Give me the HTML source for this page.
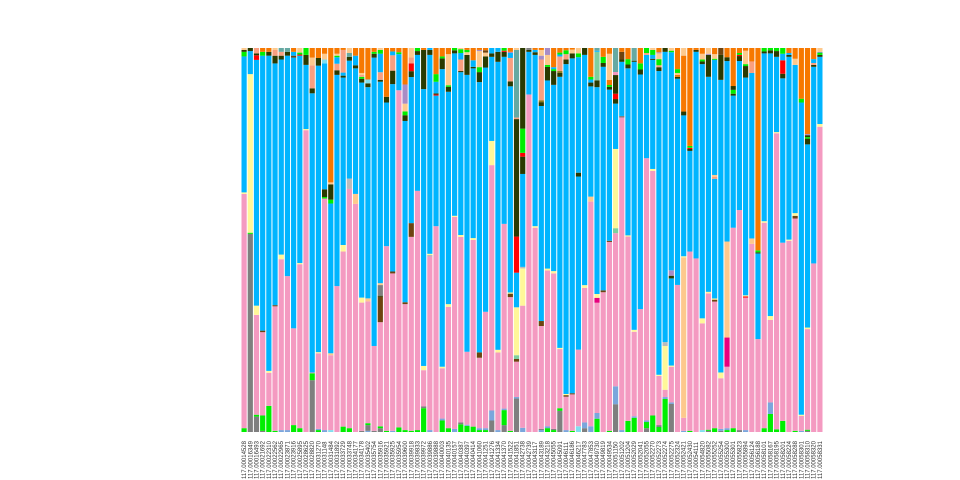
<!DOCTYPE html>
<html><head><meta charset="utf-8"><style>
html,body{margin:0;padding:0;background:#fff;width:960px;height:480px;overflow:hidden}
svg{display:block}
text{font-family:"Liberation Sans",sans-serif}
</style></head><body>
<svg id="chart" width="960" height="480">
<g id="bars"></g>
<g id="xlabels"></g>
</svg>
<script>
const categories = ["117.00014528","117.00016349","117.00016493","117.00021692","117.00022310","117.00022562","117.00022965","117.00023871","117.00023916","117.00025895","117.00028625","117.00028820","117.00031270","117.00031148","117.00031484","117.00031892","117.00033729","117.00033748","117.00034177","117.00034178","117.00035402","117.00035754","117.00035916","117.00035921","117.00035925","117.00035954","117.00039600","117.00039918","117.00039833","117.00039972","117.00039886","117.00039888","117.00040003","117.00040135","117.00040157","117.00040387","117.00040397","117.00040414","117.00041060","117.00041251","117.00041276","117.00041334","117.00041370","117.00041522","117.00041851","117.00042738","117.00042739","117.00043117","117.00043189","117.00043218","117.00045055","117.00045091","117.00046111","117.00046186","117.00046217","117.00047783","117.00047853","117.00049730","117.00049819","117.00049534","117.00051150","117.00051202","117.00051204","117.00052029","117.00052041","117.00052055","117.00052270","117.00052273","117.00052274","117.00052275","117.00052324","117.00052421","117.00052430","117.00054111","117.00054820","117.00055082","117.00055252","117.00055254","117.00055300","117.00055301","117.00055823","117.00055894","117.00056124","117.00056188","117.00058101","117.00058167","117.00058195","117.00058201","117.00058224","117.00058288","117.00058301","117.00058310","117.00058320","117.00058331"];
const seriesColors = {gy:"#7f7f7f",gr:"#00ee00",sb:"#7aa6dc",pk:"#f49ac1",mg:"#e7007d",br:"#6e4310",yl:"#fff799",pc:"#fdc98d",bl:"#00b5ff",rd:"#ff0000",dk:"#2a3a00",lm:"#00ee00",sa:"#f99f80",or:"#f77800",te:"#66a9a2",lv:"#a98cc5",si:"#bbbbbb",mi:"#7fcf9f",cy:"#7fdfef",ol:"#8b7a1a"};
const stacks = [
"gr1 pk61 yl.4 bl35.4 lm1.2 dk.5 pc.5",
"gy51.6 gr.3 yl41.3 bl6 dk.8",
"gy4 gr.5 pk26 yl2.4 bl64 rd1.2 dk.5 sa1.4",
"gy.3 gr4 pk21.7 br.4 bl71.6 lm1 or1",
"gr6.8 pk8.6 yl.5 bl82 dk1 or1",
"gr.3 pk32.3 br.3 bl62.7 dk2 sa1.5 pc.5",
"sb.5 pk44.5 yl1.2 bl50.8 dk1 sa1 te1",
"sb.5 pk40.1 bl57.4 dk1 te1",
"gr1.8 pk25.2 bl70.5 br.5 bl1 or1",
"gr1 pk42.7 yl.3 bl54 rd.3 lm.5 pc1.2",
"pk78.6 yl.3 bl16.7 dk2.6 lm1.8",
"gy13.5 gr1.8 pk.2 bl72.7 dk1.3 sa6 pc2 or2.5",
"gr.5 sb.3 pk19.7 yl.3 bl74.6 dk2 or2.6",
"sb.5 pk60.3 lm.4 dk2 bl32.8 cy1 pc1.5 or1.5",
"cy.5 pk19.5 pc.5 bl39 lm1 dk4 pc.5 or35",
"pk38 bl55 dk1.2 sa1.7 bl1.7 lm.4 pc.5 or1.5",
"gr1.4 pk45.6 yl1.7 bl43.6 dk.5 bl.8 sa5.9 or.5",
"gr1 pk62.3 si2.7 bl30.7 dk1 te1 pc1.3",
"pk59.4 pc2.6 bl32.7 dk.8 bl2.5 or2",
"gy.3 pk33.4 yl1.3 bl56 dk1 lm.5 sa.5 pc.5 or6.5",
"sb.3 gy1.5 gr.5 pk31.7 pc.8 bl55 dk1 cy1 or8.2",
"gy.3 pk22.1 bl75.1 dk1 lm.5 or1",
"gy1 gr.5 pk27.5 br6.7 dk.3 gy2.8 pc.5 bl53.2 dk.5 sa2 bl4.9 lm1 pc.5",
"gr.3 pk48.1 bl37.4 dk1.5 or12.7",
"sb.3 pk41 br.5 bl48.8 dk3.5 sa4 bl1 or.9",
"gr1.2 pk87.8 bl9.4 lm.5 or1.1",
"gr.5 pk32.8 br.5 bl47.2 dk1.5 lm1 pc2 lv5 or9.5",
"gr.3 pk49.4 br3.5 bl37.2 dk1.5 rd2 sa1.5 pc2.4",
"gr.5 pk62.3 bl35.4 dk1 lm.8",
"gr6.2 gy.5 pk9.4 yl1.1 bl72.1 dk10.2 or.5",
"sb.5 pk45.2 si.4 yl.3 bl51.8 dk1.3 bl.5",
"pk53.6 bl34 rd.3 dk.3 bl3 lm2 or6.8",
"gr3 sb.5 pk13.1 yl.4 bl77.5 dk2.8 lm.5 or2.2",
"gr1 pk31.6 yl.7 bl55.3 dk1.3 lm.4 pc8.1 or1.6",
"sb.8 pk55.2 yl.3 bl42.3 dk.8 lm.6",
"gr2 gy.5 pk48.3 yl.5 bl42.4 dk.3 sa3 bl1.7 lm1 pc.3",
"gr1.6 sb.3 pk19 bl72.1 dk5.2 pc.7 lm.6 or.5",
"gr1.4 pk48.6 yl.5 bl44.2 dk.4 bl1.7 or3.2",
"gr.5 sb.5 pk18.4 br1.4 bl70.6 dk2.6 lm1.3 pc4.2 lv.3 or.5",
"gr.5 sb.5 pk30.3 bl63.6 dk2.9 pc1 br.6 or.6",
"gy3 sb2.6 pk63.9 yl6.3 bl21.9 dk.9 bl1.4",
"sb.5 pk20.2 yl.7 bl75 dk2.6 bl1",
"gy1.8 gr3.9 sb.4 pk48.1 bl43.5 dk1.3 rd.3 lm.7",
"gr.3 pk34.9 br.9 yl.3 bl53.8 dk1.3 sa6.1 bl1.3 lv.3 or1",
"gy8.8 sb.4 pk9.3 br.7 mi1 yl12.6 bl9.1 rd9.5 dk30.9 sa.4 te17.8 pc.5",
"sb1.1 pk31.8 yl9.7 si.4 bl24.2 dk4.5 rd1 lm6.3 dk21",
"pk87.9 bl11.1 dk.5 gy.5",
"pk53.2 yl.4 bl44.6 dk.7 bl.6 or.5",
"sb.5 gy.3 pk26.8 br1.3 bl56 dk1 ol.5 sa10.6 lv1 pc1.5 or.5",
"gr1 sb.5 pk40.3 yl.5 bl48.7 dk3.5 lm.5 pc2.6 lv1.8",
"gr.5 gy.3 pk40.5 yl.6 bl48.5 dk3.6 lm.5 bl.5 or5",
"gy5.5 gr.7 pk15.4 yl.3 bl70.6 dk1 ol.5 sa3.8 bl.5 lm.5 or1.2",
"sb.5 pk8.7 br.4 yl.3 bl85.9 dk1.2 sa1.4 lm1 or.6",
"gr.3 pk9.5 br.3 bl87.2 dk1.3 pc1 or.4",
"cy1.5 pk20.1 bl45.4 dk1 bl30.3 lm1 pc1.4",
"gy1 sb1.5 pk35.2 yl.7 bl60.2 dk1.8",
"sb1.5 pk58.5 pc1.3 bl28.7 dk1 bl.8 lm.7 or7.5",
"gr3.5 sb1.5 pk29 mg1.3 yl1 bl54.4 dk1.8 mi7.5 bl.3 te.7",
"pk36.4 br.5 bl58.2 dk1 lm1.6 or2.3",
"gr.3 pk49 br.3 bl39.2 dk.7 lm.5 or1.3 pc6.8 or1.5",
"gy7.3 sb4.7 pk40.2 mi1.3 yl20.8 bl11.9 dk1.2 rd1.4 dk4.9 pk.8 te6.3",
"sb.5 pk81.4 gy.4 bl14.1 dk.6 br2 or1",
"gr2.9 pk48 yl.3 bl43.5 dk1 lm1.4 or2.9",
"gr3.7 sb.4 pk22 yl.5 bl69.8 dk.3 te3.3",
"pk32 bl61.1 dk1.3 lm1.6 or4",
"gy1 gr1.6 sb.4 pk68.3 bl26.9 sa.5 lm1.3",
"gr4.3 pk63.7 yl.5 bl28.4 dk.3 bl1 lm1.3 pc.5",
"gr1.3 gy.5 pk12.8 yl.3 bl79.1 dk1 sa.5 lm1.6 pc1.5 lv.3 or1.1",
"gr8.6 sb.5 pk1.9 yl11.4 si1 bl75.6 dk1",
"gy7.3 sb.4 pk9.3 yl.3 bl22.7 dk.7 lv1.4 bl56.8 lm.4 pc.7",
"pk38.3 bl53.7 dk.5 or.5 pc.5 lm1 or5.5",
"sb.3 pk3.4 pc41.9 yl.3 bl36.8 dk1 or14.6 pc2",
"gr.3 pk46.7 bl26.2 dk.5 rd.3 lm.5 or25.5",
"pk45.2 bl53.8 dk.5 or.5",
"cy.5 pk27.8 yl1.3 bl66.2 dk.7 lm.5 pc1.5 or1.5",
"gy.3 gr.3 pk35.5 yl.4 bl56 dk5.7 lv.3 pc1.5",
"gr1 pk33 br.5 yl.3 bl31.2 sa.5 pc.5 bl30 lm.3 pc1.2 or1.6",
"gy.3 sb.5 pk13.2 yl1.5 bl76.2 dk6.5 br1.8",
"gr.5 sb.5 pk16 mg7.6 pc25 bl47 dk1 or2.4",
"gr1 pk52.2 bl34.4 dk.5 lm1 dk1 or9.9",
"gy.5 pk57.3 bl38.8 dk1.3 rd.3 lm.5 or1.3",
"sb.5 pk34.5 rd.3 yl.3 bl56.7 dk3 lm.5 pc3.5 or.7",
"pk49 pc1.4 bl43.1 sa3 or3.5",
"pk24.2 bl22.3 dk.3 lm.5 or52.7",
"gr1 pk53.5 yl.4 bl43.7 dk.5 lm.9",
"gr4.7 sb3 pk21.5 yl1 bl68.4 dk.8 lm.6",
"gr.7 pk77.1 yl.3 bl19.6 dk1.5 lm.8",
"gr2.9 pk46.4 bl42.8 dk1.2 rd3.5 bl1.7 lm1.5",
"pk49.8 yl.3 bl47.6 dk.5 bl.5 or1.3",
"gr.3 pk55.3 br.7 yl.7 bl38.6 pc1.6 or2.8",
"sb.3 pk3.9 yl.3 bl81.3 lm1 or13.2",
"gy.3 gr.3 pk26.2 yl.4 bl47.7 dk1.5 lm.4 dk.5 lv.3 or22.4",
"pk43.9 bl51.2 dk.5 sa.5 bl1 or2.9",
"pk79.5 yl.7 bl17.5 dk.5 lm.5 te.3 pc1"
];
const NS="http://www.w3.org/2000/svg";
const plotLeft=241, plotRight=823, plotTop=48, plotBottom=432;
const n=stacks.length;
const step=(plotRight-plotLeft)/n;
const barW=step*0.84;
function xPos(i){return plotLeft+i*step+(step-barW)/2;}
function yScale(frac){return plotBottom-frac*(plotBottom-plotTop);}
const gBars=document.getElementById('bars');
const gLab=document.getElementById('xlabels');
stacks.forEach((s,i)=>{
  const segs=s.trim().split(/\s+/).map(t=>[t.slice(0,2),parseFloat(t.slice(2))]);
  const total=segs.reduce((a,b)=>a+b[1],0);
  let cum=0;
  const g=document.createElementNS(NS,'g');
  
  
  segs.forEach(([k,v])=>{
    const y0=yScale(cum/total), y1=yScale((cum+v)/total);
    cum+=v;
    const r=document.createElementNS(NS,'rect');
    r.setAttribute('x',xPos(i).toFixed(2));
    r.setAttribute('y',y1.toFixed(2));
    r.setAttribute('width',barW.toFixed(2));
    r.setAttribute('height',Math.max(0,y0-y1).toFixed(2));
    r.setAttribute('fill',seriesColors[k]);
    
    
    g.appendChild(r);
  });
  gBars.appendChild(g);
  const t=document.createElementNS(NS,'text');
  const cx=xPos(i)+barW/2+2;
  t.setAttribute('x',cx.toFixed(2));
  t.setAttribute('y','479');
  t.setAttribute('transform','rotate(-90 '+cx.toFixed(2)+' 479)');
  t.setAttribute('font-size','6');
  t.setAttribute('fill','#333');
  
  
  t.textContent=categories[i]||'';
  gLab.appendChild(t);
});
</script>
</body></html>
